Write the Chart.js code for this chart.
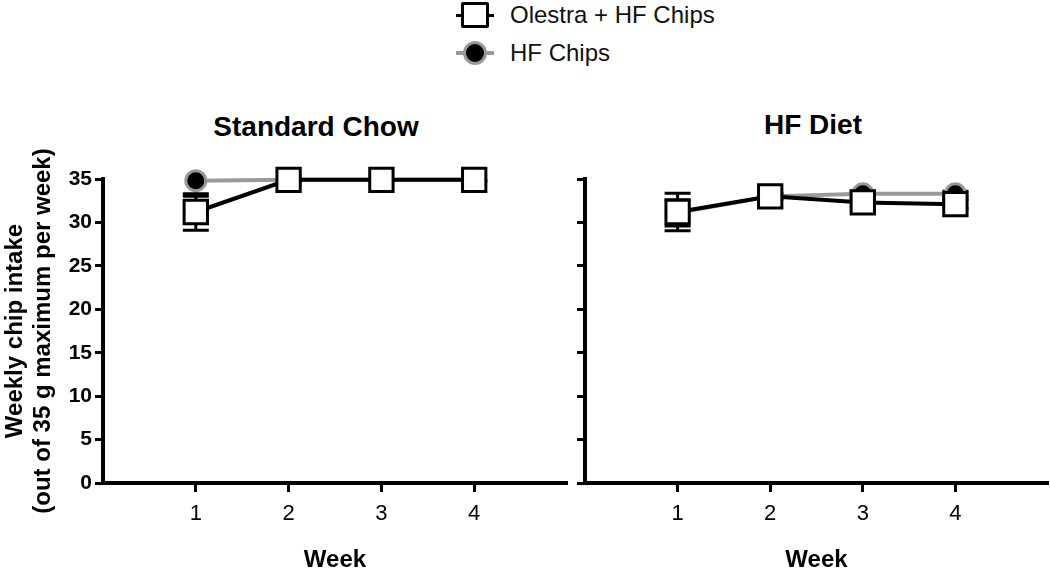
<!DOCTYPE html>
<html>
<head>
<meta charset="utf-8">
<script src="https://cdn.jsdelivr.net/npm/chart.js@4.4.0/dist/chart.umd.min.js"></script>
<style>
  body { margin: 0; background: #fff; font-family: 'Liberation Sans', Arial, sans-serif; }
  #wrap { position: relative; width: 1050px; height: 570px; overflow: hidden; }
  canvas { position: absolute; top: 0; }
  .panel-title { position: absolute; font-weight: bold; font-size: 28px; color: #000;
    transform: translate(-50%, -50%); white-space: nowrap; }
  .legend-row { position: absolute; left: 456px; height: 30px; display: flex; align-items: center;
    font-size: 24px; color: #111; transform: translateY(-50%); }
  .mark { position: relative; width: 38px; height: 30px; margin-right: 16px; }
  .mark .stub { position: absolute; left: 0; right: 0; top: 50%; height: 3px; margin-top: -1.5px; }
  .mark .sq { position: absolute; left: 5px; top: 2px; width: 22px; height: 20px;
    border: 3px solid #000; border-radius: 2px; background: #fff; }
  .mark .dot { position: absolute; left: 7px; top: 3px; width: 18px; height: 18px;
    border: 3px solid #999; border-radius: 50%; background: #000; }
</style>
</head>
<body>
<div id="wrap">
  <div class="legend-row" style="top:15px">
    <div class="mark"><div class="stub" style="background:#000"></div><div class="sq"></div></div>
    <span>Olestra + HF Chips</span>
  </div>
  <div class="legend-row" style="top:53px">
    <div class="mark"><div class="stub" style="background:#999;height:4px;margin-top:-2px"></div><div class="dot"></div></div>
    <span>HF Chips</span>
  </div>
  <div class="panel-title" style="left:316px;top:127px">Standard Chow</div>
  <div class="panel-title" style="left:813px;top:125px">HF Diet</div>
  <canvas id="chow" width="570" height="570" style="left:0"></canvas>
  <canvas id="hfdiet" width="485" height="570" style="left:565px"></canvas>
</div>
<script>
// weeks on the x axis
const weeks = [1, 2, 3, 4];
const yTicks = [0, 5, 10, 15, 20, 25, 30, 35];

// Standard Chow panel (means and SEM)
const chowOlestra = [31.2, 34.9, 34.9, 34.9];
const chowOlestraSem = [2.1, 0.2, 0.1, 0.1];
const chowHF = [34.8, 34.9, 34.9, 34.9];
const chowHFSem = [1.8, 0.1, 0.1, 0.1];

// HF Diet panel
const dietOlestra = [31.2, 33.0, 32.3, 32.1];
const dietOlestraSem = [2.15, 0.3, 0.4, 0.5];
const dietHF = [31.1, 33.0, 33.3, 33.3];
const dietHFSem = [1.5, 0.3, 0.3, 0.3];

const FONT = "'Liberation Sans', Arial, sans-serif";

// draws SEM bars through the chart's own scales, clipped to the plot like the original
const errorBars = {
  id: 'errorBars',
  beforeDatasetsDraw(chart) {
    const { ctx, chartArea, scales: { x, y } } = chart;
    ctx.save();
    ctx.beginPath();
    ctx.rect(chartArea.left - 20, chartArea.top, chartArea.width + 40, chartArea.height);
    ctx.clip();
    ctx.strokeStyle = '#000';
    ctx.lineWidth = 3;
    chart.data.datasets.forEach(ds => {
      if (!ds.sem) return;
      ds.data.forEach((p, i) => {
        const px = x.getPixelForValue(p.x);
        const hi = y.getPixelForValue(p.y + ds.sem[i]);
        const lo = y.getPixelForValue(p.y - ds.sem[i]);
        ctx.beginPath();
        ctx.moveTo(px, hi); ctx.lineTo(px, lo);
        ctx.moveTo(px - 13, hi); ctx.lineTo(px + 13, hi);
        ctx.moveTo(px - 13, lo); ctx.lineTo(px + 13, lo);
        ctx.stroke();
      });
    });
    ctx.restore();
  }
};

function toPoints(vals) {
  return weeks.map((w, i) => ({ x: w, y: vals[i] }));
}

function makeDatasets(olestra, olestraSem, hf, hfSem) {
  return [
    {
      label: 'Olestra + HF Chips',
      data: toPoints(olestra),
      sem: olestraSem,
      borderColor: '#000',
      borderWidth: 4,
      pointStyle: 'rect',
      pointRadius: 16.5,
      pointBackgroundColor: '#fff',
      pointBorderColor: '#000',
      pointBorderWidth: 3,
      clip: false,
      order: 0,
    },
    {
      label: 'HF Chips',
      data: toPoints(hf),
      sem: hfSem,
      borderColor: '#999',
      borderWidth: 4,
      pointStyle: 'circle',
      pointRadius: 10,
      pointBackgroundColor: '#000',
      pointBorderColor: '#999',
      pointBorderWidth: 3,
      clip: false,
      order: 1,
    },
  ];
}

function makeOptions(showLabels, yWidth, padRight) {
  return {
    responsive: false,
    animation: false,
    devicePixelRatio: 1,
    layout: { autoPadding: false, padding: { top: 179, right: padRight, left: 0, bottom: 0 } },
    plugins: { legend: { display: false }, tooltip: { enabled: false } },
    scales: {
      x: {
        type: 'linear',
        min: 0,
        max: 5,
        afterBuildTicks: s => { s.ticks = weeks.map(v => ({ value: v })); },
        afterFit: s => { s.height = 87; },
        ticks: { color: '#000', font: { family: FONT, size: 22 }, padding: 9, callback: v => String(v) },
        grid: { drawOnChartArea: false, drawTicks: true, tickLength: 9, color: '#000', tickWidth: 3 },
        border: { color: '#000', width: 4 },
        title: { display: true, text: 'Week', color: '#000',
          font: { family: FONT, size: 24, weight: 'bold', lineHeight: 0.8 }, padding: 0 },
      },
      y: {
        min: 0,
        max: 35,
        afterBuildTicks: s => { s.ticks = yTicks.map(v => ({ value: v })); },
        afterFit: s => { s.width = yWidth; },
        ticks: { color: '#000', font: { family: FONT, size: 21, weight: 'bold' }, padding: 3,
          callback: v => showLabels ? String(v) : '' },
        grid: { drawOnChartArea: false, drawTicks: true, tickLength: 8, color: '#000', tickWidth: 3 },
        border: { color: '#000', width: 4 },
        title: {
          display: showLabels,
          text: ['Weekly chip intake', '(out of 35 g maximum per week)'],
          color: '#000',
          font: { family: FONT, size: 24, weight: 'bold', lineHeight: 1.15 },
          padding: { top: 2, bottom: 0 },
        },
      },
    },
  };
}

new Chart(document.getElementById('chow'), {
  type: 'line',
  data: { datasets: makeDatasets(chowOlestra, chowOlestraSem, chowHF, chowHFSem) },
  options: makeOptions(true, 103, 3),
  plugins: [errorBars],
});

new Chart(document.getElementById('hfdiet'), {
  type: 'line',
  data: { datasets: makeDatasets(dietOlestra, dietOlestraSem, dietHF, dietHFSem) },
  options: makeOptions(false, 20, 2),
  plugins: [errorBars],
});
</script>
</body>
</html>
